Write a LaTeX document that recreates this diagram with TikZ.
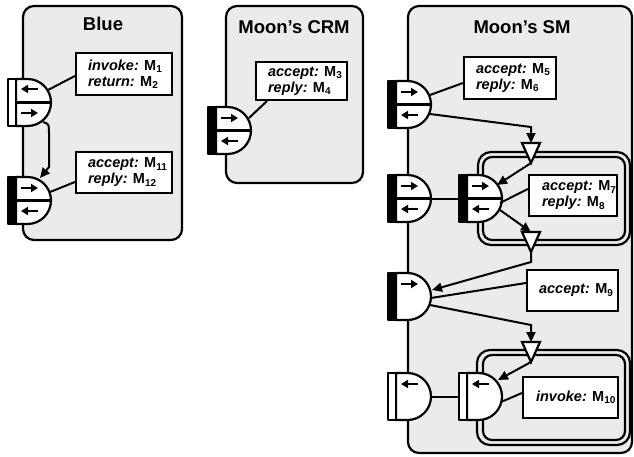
\documentclass[tikz,border=0pt]{standalone}
\usepackage{fontspec}
\setmainfont{Liberation Sans}
\usetikzlibrary{arrows.meta,calc}
\definecolor{boxgray}{RGB}{235,235,235}
\newcommand\msub[1]{\raisebox{-2.5pt}{\fontsize{10}{10}\selectfont #1}}
\tikzset{
  bigbox/.style={draw, line width=2.2pt, fill=boxgray, rounded corners=11pt},
  inbox/.style={draw, line width=2.2pt, rounded corners=#1},
  lblbox/.style={draw, line width=2.2pt, fill=white, inner sep=0pt},
  lbltext/.style={anchor=west, align=left, inner sep=0pt, font=\bfseries\fontsize{14.5}{16}\selectfont},
  titletext/.style={font=\bfseries\fontsize{18.5}{20}\selectfont, inner sep=0pt},
  portline/.style={line width=2.2pt, line join=round},
  parrow/.style={line width=2pt, -{Triangle[length=7pt,width=8pt]}},
  conn/.style={line width=2pt},
  connarr/.style={line width=2pt, -{Triangle[length=10pt,width=9pt]}},
  tri/.style={draw, line width=2.2pt, fill=white, line join=miter},
}
% port: name, x0 (bar right edge), top y, bar colour
\newcommand\pbody[4]{%
  \draw[portline, fill=white] (#2,#3) -- ++(11.5,0) arc[start angle=-90,end angle=90,radius=23.5] -- (#2,#3+47) -- cycle;
  \draw[portline, fill=#4] (#2-8,#3) rectangle (#2,#3+47);
  \coordinate (#1) at (#2+11.5,#3+23.5);
}
\newcommand\pmid[2]{\draw[portline] (#1,#2+23.5) -- ++(35,0);}
\newcommand\pright[3]{\draw[parrow] (#1+5,#2+#3) -- ++(17,0);}
\newcommand\pleft[3]{\draw[parrow] (#1+22,#2+#3) -- ++(-17,0);}
% triangle: name, centre x, top y
\newcommand\trig[3]{%
  \draw[tri] (#2-9,#3) -- (#2+9,#3) -- (#2,#3+20) -- cycle;
  \coordinate (#1top) at (#2,#3);
  \coordinate (#1apex) at (#2,#3+20);
}
\begin{document}
\begin{tikzpicture}[x=1pt,y=-1pt]
\useasboundingbox (0,0) rectangle (634,456);
% component boxes
\draw[bigbox] (23,6) rectangle (182,240);
\draw[bigbox] (226,6) rectangle (363,183);
\draw[bigbox] (408,6) rectangle (632,453);
\node[titletext] (tblue) at (103,24) {Blue};
\node[titletext] (tcrm) at (294,27) {Moon’s CRM};
\node[titletext] (tsm) at (522,27) {Moon’s SM};
% inner double boxes
\draw[inbox=13pt] (478,152) rectangle (630,245);
\draw[inbox=9pt] (483,157) rectangle (625,240);
\draw[inbox=13pt] (477,350) rectangle (630,445);
\draw[inbox=9pt] (483,355) rectangle (625,440);
% labels
\node[lblbox, minimum width=96pt, minimum height=42pt] (L1) at (124,74) {};
\node[lbltext] (T1) at ($(L1.west)+(13,0)$) {\itshape invoke:\upshape{} M\msub{1}\\\itshape return:\upshape{} M\msub{2}};
\node[lblbox, minimum width=96pt, minimum height=41pt] (L2) at (124,172.5) {};
\node[lbltext] (T2) at ($(L2.west)+(13,0)$) {\itshape accept:\upshape{} M\msub{11}\\\itshape reply:\upshape{} M\msub{12}};
\node[lblbox, minimum width=91pt, minimum height=38pt] (L3) at (301.5,81) {};
\node[lbltext] (T3) at ($(L3.west)+(13,0)$) {\itshape accept:\upshape{} M\msub{3}\\\itshape reply:\upshape{} M\msub{4}};
\node[lblbox, minimum width=92pt, minimum height=42pt] (L5) at (510,78) {};
\node[lbltext] (T5) at ($(L5.west)+(13,0)$) {\itshape accept:\upshape{} M\msub{5}\\\itshape reply:\upshape{} M\msub{6}};
\node[lblbox, minimum width=88pt, minimum height=41pt] (L7) at (573,195.5) {};
\node[lbltext] (T7) at ($(L7.west)+(14,0)$) {\itshape accept:\upshape{} M\msub{7}\\\itshape reply:\upshape{} M\msub{8}};
\node[lblbox, minimum width=91pt, minimum height=41pt] (L9) at (572.5,290.5) {};
\node[lbltext] (T9) at ($(L9.west)+(13,0)$) {\itshape accept:\upshape{} M\msub{9}};
\node[lblbox, minimum width=95pt, minimum height=41pt] (L10) at (570.5,397.5) {};
\node[lbltext] (T10) at ($(L10.west)+(14,0)$) {\itshape invoke:\upshape{} M\msub{10}};
% ports
\pbody{pb1}{16}{79}{white}\pmid{16}{79}\pleft{16}{79}{10}\pright{16}{79}{34}
\pbody{pb2}{16}{177}{black}\pmid{16}{177}\pright{16}{177}{11}\pleft{16}{177}{34}
\pbody{pc}{216}{107}{black}\pmid{216}{107}\pright{216}{107}{11}\pleft{216}{107}{34}
\pbody{pa}{396}{81}{black}\pmid{396}{81}\pright{396}{81}{11}\pleft{396}{81}{34}
\pbody{pB}{396}{175}{black}\pmid{396}{175}\pright{396}{175}{11}\pleft{396}{175}{34}
\pbody{pC}{467}{175}{black}\pmid{467}{175}\pright{467}{175}{11}\pleft{467}{175}{34}
\pbody{pD}{396}{273}{black}\pright{396}{273}{11}
\pbody{pE}{396}{373}{white}\pleft{396}{373}{11}
\pbody{pF}{467}{373}{white}\pleft{467}{373}{11}
% triangles
\trig{ta}{531}{143}
\trig{tb}{531}{232}
\trig{tc}{531}{342}
% connector end points
\coordinate (b1l) at (48,90);
\coordinate (b1o) at (43,122);
\coordinate (b2i) at (40,178);
\coordinate (b2l) at (50,192);
\coordinate (cl) at (249,118);
\coordinate (al) at (430,95);
\coordinate (ao) at (430,114);
\coordinate (ka) at (531,127);
\coordinate (Br) at (431,198.5);
\coordinate (Cb) at (459,198.5);
\coordinate (Ci) at (497,185);
\coordinate (Cl) at (500,203);
\coordinate (Co) at (500,210);
\coordinate (kb) at (531,262);
\coordinate (Di) at (432,290);
\coordinate (Dl) at (431,298);
\coordinate (Do) at (430,305);
\coordinate (kc) at (531,325);
\coordinate (Fi) at (498,380);
\coordinate (Er) at (431,396.5);
\coordinate (Fb) at (459,396.5);
\coordinate (Fl) at (501,402);
% connectors
\draw[conn] (b1l) -- ($(L1.west)+(0,2)$);
\draw[connarr] (b1o) .. controls (49,124) .. (49,133) -- (49,167) -- (b2i);
\draw[conn] (b2l) -- ($(L2.west)+(0,9.5)$);
\draw[conn] (cl) -- ($(L3.south west)+(12,0)$);
\draw[conn] (al) -- ($(L5.west)+(0,5)$);
\draw[connarr] (ao) -- (ka) -- (tatop);
\draw[conn] (Br) -- (Cb);
\draw[connarr] (taapex) -- (Ci);
\draw[conn] (Cl) -- ($(L7.west)+(0,-6.5)$);
\draw[connarr] (Co) -- (tbtop);
\draw[connarr] (tbapex) -- (kb) -- (Di);
\draw[conn] (Dl) -- ($(L9.west)+(0,-7.5)$);
\draw[connarr] (Do) -- (kc) -- (tctop);
\draw[connarr] (tcapex) -- (Fi);
\draw[conn] (Er) -- (Fb);
\draw[conn] (Fl) -- ($(L10.west)+(0,-4.5)$);
\end{tikzpicture}
\end{document}
